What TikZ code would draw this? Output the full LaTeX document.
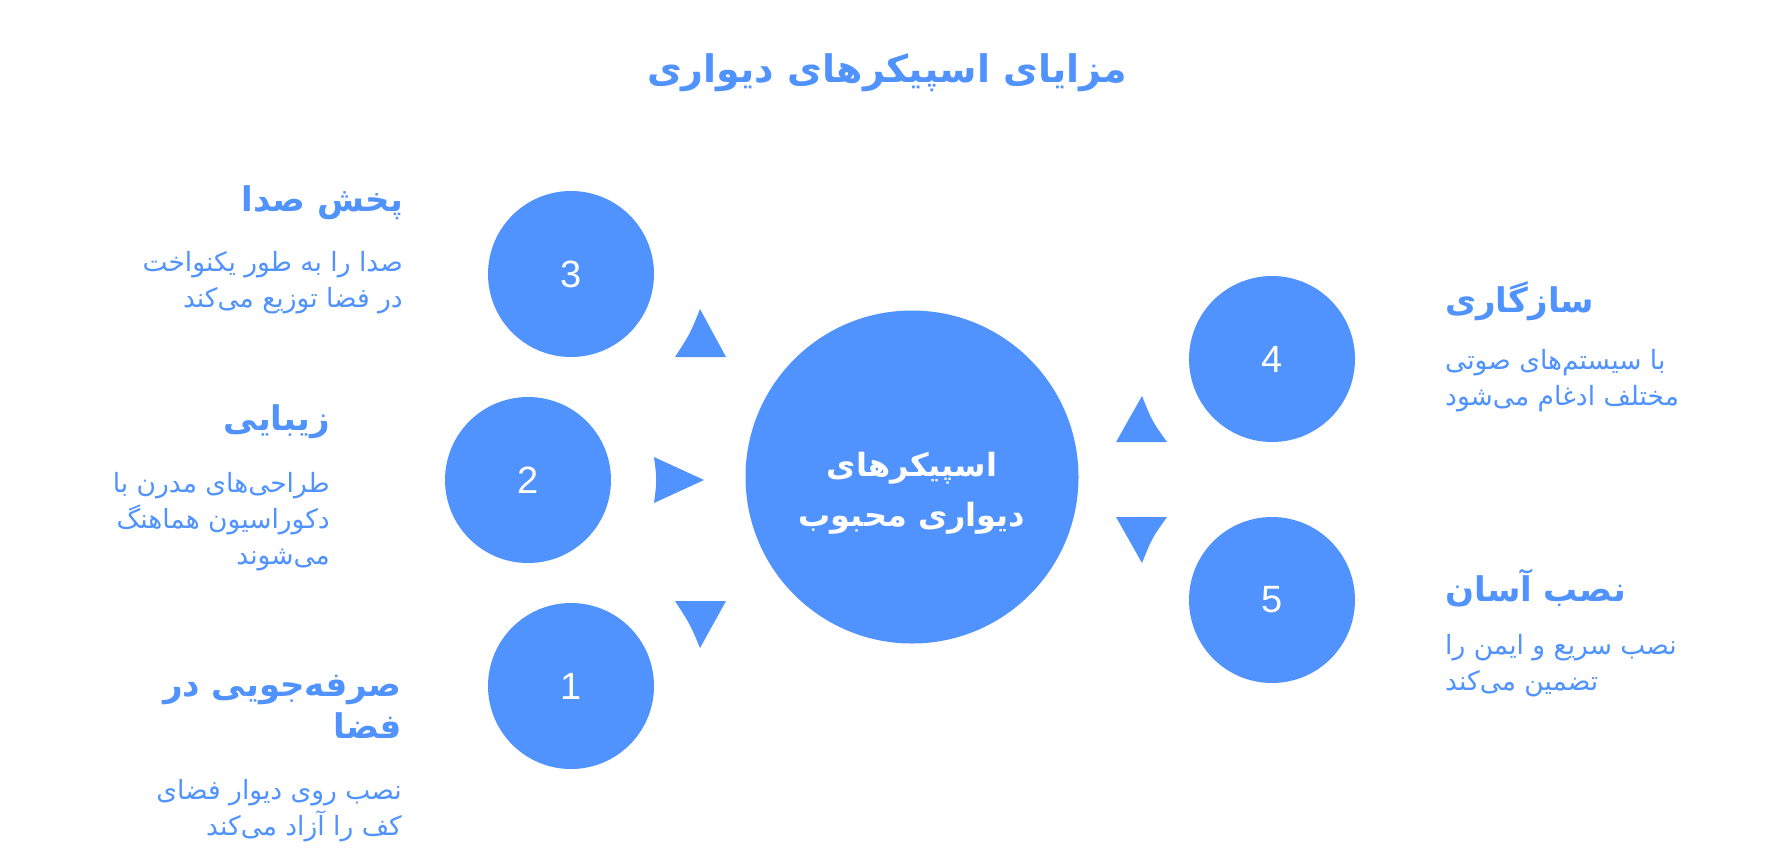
\documentclass[tikz,border=0pt]{standalone}
\usepackage{fontspec}
\setmainfont{Liberation Sans}
\newfontfamily\fa[Script=Arabic]{DejaVu Sans}
\TeXXeTstate=1
\definecolor{bl}{RGB}{80,147,255}
\begin{document}
\begin{tikzpicture}[x=1pt,y=-1pt,
  numc/.style={circle,fill=bl,minimum size=166pt,inner sep=0pt,text=white,font=\fontsize{38}{38}\selectfont},
  bigc/.style={circle,fill=bl,minimum size=333pt,inner sep=0pt},
  ctext/.style={text=white,align=center,inner sep=0pt,font=\fa\bfseries\fontsize{32}{50}\selectfont},
  titletext/.style={text=bl,inner sep=0pt,font=\fa\bfseries\fontsize{38}{44}\selectfont},
  head/.style={text=bl,inner sep=0pt,font=\fa\bfseries\fontsize{34}{42}\selectfont},
  desc/.style={text=bl,inner sep=0pt,font=\fa\fontsize{26.5}{36}\selectfont},
  tri/.style={fill=bl}]
\useasboundingbox (0,0) rectangle (1776,865);
\fill[white] (0,0) rectangle (1776,865);

% title
\node[titletext] (title) at (887,73) {\beginR مزایای اسپیکرهای دیواری\endR};

% circles
\node[bigc] (center) at (912,477) {};
\node[ctext] (centertext) at (912,493) {\beginR اسپیکرهای\endR\\\beginR دیواری محبوب\endR};
\node[numc] (c3) at (571,274) {3};
\node[numc] (c2) at (528,480) {2};
\node[numc] (c1) at (571,686) {1};
\node[numc] (c4) at (1272,359) {4};
\node[numc] (c5) at (1272,600) {5};

% triangles
\fill[tri] (675,357) .. controls (690,334) .. (700,309) -- (726,357) -- cycle;
\fill[tri] (654,457) -- (704,480) -- (654,503) .. controls (657,480) .. (654,457) -- cycle;
\fill[tri] (675,601) -- (726,601) -- (700,648) .. controls (690,624) .. (675,601) -- cycle;
\fill[tri] (1116,442) -- (1142,396) .. controls (1152,421) .. (1167,442) -- cycle;
\fill[tri] (1116,517) -- (1167,517) .. controls (1152,538) .. (1142,563) -- cycle;

% left texts
\node[head,anchor=east] (h3) at (403,203) {\beginR پخش صدا\endR};
\node[desc,anchor=east,align=right] (d3) at (403,283) {\beginR صدا را به طور یکنواخت\endR\\\beginR در فضا توزیع می‌کند\endR};
\node[head,anchor=east] (h2) at (330,422) {\beginR زیبایی\endR};
\node[desc,anchor=east,align=right] (d2) at (330,522) {\beginR طراحی‌های مدرن با\endR\\\beginR دکوراسیون هماهنگ\endR\\\beginR می‌شوند\endR};
\node[head,anchor=east,align=right] (h1) at (402,707) {\beginR صرفه‌جویی در\endR\\\beginR فضا\endR};
\node[desc,anchor=east,align=right] (d1) at (402,811) {\beginR نصب روی دیوار فضای\endR\\\beginR کف را آزاد می‌کند\endR};

% right texts
\node[head,anchor=west] (h4) at (1445,301) {\beginR سازگاری\endR};
\node[desc,anchor=west,align=left] (d4) at (1445,381) {\beginR با سیستم‌های صوتی\endR\\\beginR مختلف ادغام می‌شود\endR};
\node[head,anchor=west] (h5) at (1445,588) {\beginR نصب آسان\endR};
\node[desc,anchor=west,align=left] (d5) at (1445,666) {\beginR نصب سریع و ایمن را\endR\\\beginR تضمین می‌کند\endR};
\end{tikzpicture}
\end{document}
